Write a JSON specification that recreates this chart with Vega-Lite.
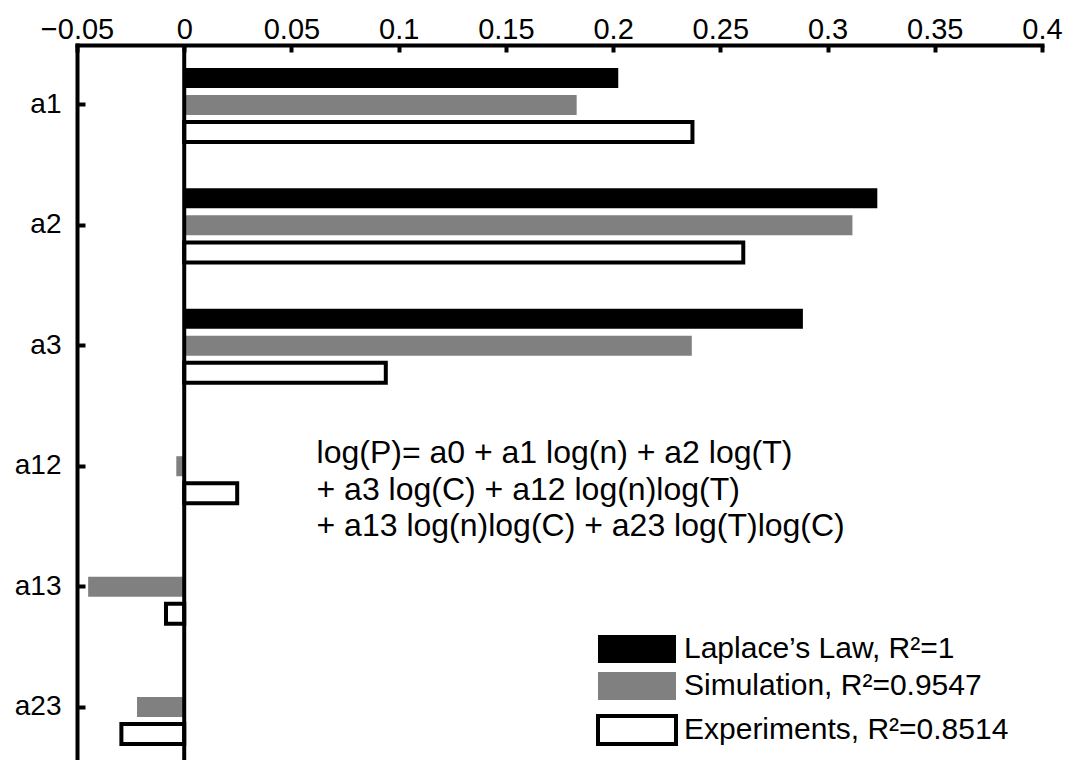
{
  "$schema": "https://vega.github.io/schema/vega-lite/v6.json",
  "width": 965,
  "height": 722,
  "autosize": {"type": "none"},
  "padding": {"left": 77, "top": 45, "right": 25, "bottom": 0},
  "background": "white",
  "config": {"view": {"stroke": null}, "font": "Liberation Sans"},
  "layer": [
    {
      "data": {
        "values": [
          {"coef": "a1", "series": "Laplace’s Law, R²=1", "value": 0.2024},
          {"coef": "a1", "series": "Simulation, R²=0.9547", "value": 0.183},
          {"coef": "a1", "series": "Experiments, R²=0.8514", "value": 0.237},
          {"coef": "a2", "series": "Laplace’s Law, R²=1", "value": 0.3232},
          {"coef": "a2", "series": "Simulation, R²=0.9547", "value": 0.3116},
          {"coef": "a2", "series": "Experiments, R²=0.8514", "value": 0.2607},
          {"coef": "a3", "series": "Laplace’s Law, R²=1", "value": 0.2885},
          {"coef": "a3", "series": "Simulation, R²=0.9547", "value": 0.2367},
          {"coef": "a3", "series": "Experiments, R²=0.8514", "value": 0.0940},
          {"coef": "a12", "series": "Simulation, R²=0.9547", "value": -0.0037},
          {"coef": "a12", "series": "Experiments, R²=0.8514", "value": 0.0247},
          {"coef": "a13", "series": "Simulation, R²=0.9547", "value": -0.0448},
          {"coef": "a13", "series": "Experiments, R²=0.8514", "value": -0.0085},
          {"coef": "a23", "series": "Simulation, R²=0.9547", "value": -0.0220},
          {"coef": "a23", "series": "Experiments, R²=0.8514", "value": -0.0293}
        ]
      },
      "mark": {"type": "bar"},
      "encoding": {
        "y": {
          "field": "coef", "type": "nominal",
          "sort": ["a1", "a2", "a3", "a12", "a13", "a23"],
          "scale": {"paddingInner": 0.385, "paddingOuter": 0.19},
          "axis": {
            "title": null, "domainWidth": 4, "domainColor": "black", "domainCap": "square",
            "tickWidth": 4, "tickColor": "black", "tickSize": -8,
            "labelFontSize": 28, "labelColor": "black", "labelPadding": 24
          }
        },
        "yOffset": {
          "field": "series", "type": "nominal",
          "sort": ["Laplace’s Law, R²=1", "Simulation, R²=0.9547", "Experiments, R²=0.8514"],
          "scale": {"paddingInner": 0.26, "paddingOuter": 0}
        },
        "x": {
          "field": "value", "type": "quantitative",
          "scale": {"domain": [-0.05, 0.4], "nice": false, "zero": false},
          "axis": {
            "orient": "top", "title": null, "grid": false, "format": "~g",
            "values": [-0.05, 0, 0.05, 0.1, 0.15, 0.2, 0.25, 0.3, 0.35, 0.4],
            "domainWidth": 4, "domainColor": "black", "domainCap": "square",
            "tickWidth": 4, "tickColor": "black", "tickSize": -7,
            "labelFontSize": 29, "labelColor": "black", "labelPadding": 8, "labelFlush": false
          }
        },
        "fill": {
          "field": "series", "type": "nominal",
          "scale": {"domain": ["Laplace’s Law, R²=1", "Simulation, R²=0.9547", "Experiments, R²=0.8514"], "range": ["#000000", "#808080", "#ffffff"]},
          "legend": {
            "orient": "none", "legendX": 544, "legendY": 589, "title": null,
            "symbolType": "M-2.786,-1H2.786V1H-2.786Z", "symbolSize": 784,
            "labelFontSize": 30, "labelColor": "black", "labelOffset": 31, "labelLimit": 500,
            "rowPadding": 7, "padding": 0, "symbolOpacity": 1
          }
        },
        "stroke": {
          "field": "series", "type": "nominal",
          "scale": {"domain": ["Laplace’s Law, R²=1", "Simulation, R²=0.9547", "Experiments, R²=0.8514"], "range": ["#000000", "#808080", "#000000"]}
        },
        "strokeWidth": {
          "field": "series", "type": "nominal",
          "scale": {"type": "ordinal", "domain": ["Laplace’s Law, R²=1", "Simulation, R²=0.9547", "Experiments, R²=0.8514"], "range": [0, 0, 4]}
        }
      }
    },
    {
      "data": {"values": [{"zero": 0}]},
      "mark": {"type": "rule", "color": "black", "strokeWidth": 4},
      "encoding": {"x": {"field": "zero", "type": "quantitative"}}
    },
    {
      "data": {"values": [{"coef": "a12", "xpos": 0.0617, "label": "log(P)= a0 + a1 log(n) + a2 log(T)\n+ a3 log(C) + a12 log(n)log(T)\n+ a13 log(n)log(C) + a23 log(T)log(C)"}]},
      "mark": {"type": "text", "align": "left", "baseline": "alphabetic", "fontSize": 32, "lineBreak": "\n", "lineHeight": 36.5, "dy": -3, "color": "black"},
      "encoding": {
        "x": {"field": "xpos", "type": "quantitative"},
        "y": {"field": "coef", "type": "nominal", "sort": ["a1", "a2", "a3", "a12", "a13", "a23"]},
        "text": {"field": "label"}
      }
    }
  ]
}
